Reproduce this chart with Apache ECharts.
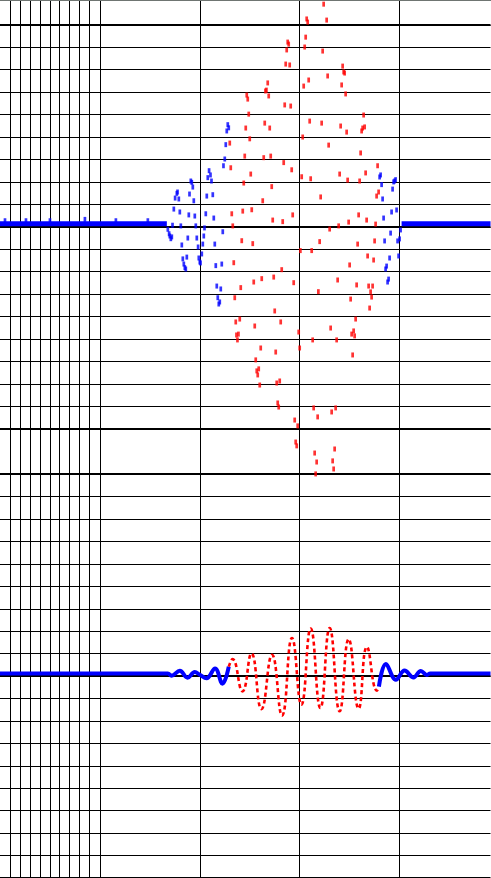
<!DOCTYPE html>
<html>
<head>
<meta charset="utf-8">
<script src="https://cdn.jsdelivr.net/npm/echarts@6/dist/echarts.min.js"></script>
<style>
html, body { margin: 0; padding: 0; background: #fff; }
#chart { width: 491px; height: 878px; }
</style>
</head>
<body>
<div id="chart"></div>
<script>
// upper panel: sampled points (one per column), flat blue baseline on both sides
var topFlatLeft = [[0, 0.14], [167, 0.14]];
var topFlatRight = [[402, 0.14], [491, 0.14]];
var topNoise = [[5, 0.27], [26, 0.27], [50, 0.27], [85, 0.33], [116, 0.27], [148, 0.27]];

var topBlue = [
  [168, -0.11], [169.3, -0.31], [170, -0.41], [171, -0.53], [172, -0.45], [172.7, 0.07],
  [174, 0.79], [175.3, 1.28], [177, 1.49], [177.7, 1.55], [179, 1.24], [180, 0.66],
  [181, 0.04], [182, -0.81], [183, -1.43], [184, -1.66], [185, -1.82], [186, -1.88],
  [187, -1.35], [188, -0.50], [189, 0.53], [189.7, 1.46], [191, 2.04], [192, 1.98],
  [193, 1.77], [194, 1.16], [195, 0.48], [196, 0.04], [197, -0.50], [198.3, -0.90],
  [199, -1.39], [200, -1.57], [200.7, -1.61], [202, -1.21], [203, -0.77], [204, -0.41],
  [204.7, -0.05], [206, 0.58], [207, 1.37], [208, 2.19], [209.3, 2.50], [210.7, 2.31],
  [211.7, 2.04], [213, 1.43], [214, 0.39], [215, -0.77], [216, -1.73], [217, -2.64],
  [218, -3.16], [219, -3.44], [220, -3.35], [221, -2.77], [222, -1.66], [223, -0.22],
  [223.7, 2.72], [225, 3.02], [226, 3.66], [227, 4.27], [228, 4.55], [229, 4.41],
  [380, 2.22], [381, 2.31], [382, 1.88], [383, 1.24], [384, 0.39], [385, -0.63],
  [386, -1.88], [387, -1.75], [388, -2.46], [389, -2.33], [390, -1.39], [391, -0.28],
  [392, 0.66], [393, 1.68], [394, 2.00], [395, 2.04], [396, 2.10], [397, 0.75],
  [398, -0.63], [399, -1.30], [400, -0.54], [401, -0.14]
];

var topRed = [
  [230, 3.73], [231, 2.63], [232, 0.58], [233, 0.04], [234, -1.60], [235, -3.16],
  [236, -4.24], [236.7, -4.82], [237.7, -5.04], [238.7, -4.78], [240, -4.11], [241, -2.71],
  [242, -0.62], [243, 0.70], [244, 1.95], [245, 3.15], [246, 4.40], [247, 5.87],
  [248, 5.69], [249, 5.02], [250, 3.92], [251, 2.35], [252, 0.76], [253, -0.75],
  [254, -2.46], [255, -4.42], [256, -5.93], [257, -6.42], [258, -6.60], [259, -6.33],
  [260, -7.05], [261, -5.40], [262, -2.31], [263, 1.16], [264, 3.08], [265, 4.62],
  [265.7, 6.05], [266.7, 6.09], [268, 6.41], [269, 5.83], [270, 4.40], [271, 3.15],
  [272, 1.79], [273, 0.30], [274, -2.24], [275, -3.75], [276, -5.58], [277, -6.96],
  [278, -7.85], [279, -8.03], [280, -6.87], [281, -4.24], [282, -1.91], [283, 0.23],
  [284, 2.86], [285, 5.43], [286, 7.25], [287, 7.88], [288, 8.23], [289, 8.14],
  [290, 7.21], [291, 5.38], [292, 2.54], [293, 0.53], [294, -2.49], [295, -8.61],
  [296, -9.59], [297, -9.76], [298, -8.87], [299, -4.69], [300, -5.40], [300.7, -1.06],
  [302, 2.23], [303, 4.00], [304, 6.27], [305, 8.01], [306, 8.45], [307, 9.26],
  [308, 9.12], [309, 6.54], [310, 4.71], [311, 2.14], [312, -1.06], [313, -5.04],
  [314, -8.07], [315, -10.08], [316, -11.01], [317, -10.48], [318, -8.47], [318.7, -2.89],
  [320, -0.66], [321, 1.33], [322, 4.62], [323, 7.83], [324, 9.92], [327, 9.21],
  [328, 6.72], [329, 3.64], [330, -0.10], [331, -4.51], [332, -8.25], [333, -10.43],
  [334, -10.79], [335, -9.90], [336, -8.07], [337, -5.04], [338, -2.37], [339, 0.04],
  [340, 2.35], [341, 4.49], [342, 6.32], [343, 7.16], [344, 6.90], [345, 6.85],
  [346, 5.92], [347, 4.22], [348, 2.08], [349, 0.21], [350, -1.70], [351, -3.22],
  [352, -4.78], [353, -5.71], [354, -4.64], [355, -4.86], [356, -4.11], [357, -2.59],
  [358, -0.77], [359, 0.53], [360, 2.04], [361, 3.29], [362, 4.27], [363, 4.40],
  [364, 4.98], [365, 4.45], [366, 2.40], [367, 0.30], [368, -1.30], [369, -2.64],
  [370, -3.62], [371, -2.90], [372, -3.13], [373, -2.64], [374, -1.48], [375, -0.63],
  [376, 0.12], [377, 1.37], [378, 2.72], [379, 1.55]
];

// lower panel: waveform, peaks / troughs
var bottomBlueLeft = [
  [0, 0.12], [168, 0.12], [171.7, 0.02], [180, 0.24], [187.7, -0.07], [195, 0.18],
  [200, 0.06], [206.7, -0.10], [215.3, 0.34], [222.7, -0.34], [229, 0.42]
];
var bottomRed = [
  [229, 0.42], [232.7, 0.76], [242.7, -0.68], [251.7, 1.01], [261.7, -1.47], [272.3, 0.95],
  [282.3, -1.76], [292.3, 1.70], [301.7, -1.27], [311, 2.12], [320.7, -1.42], [330, 2.14],
  [340, -1.57], [349, 1.65], [359, -1.45], [367.3, 1.30], [377.3, -0.65], [379.3, -0.47]
];
var bottomBlueRight = [
  [379.3, -0.47], [386.3, 0.54], [396.3, -0.16], [405, 0.25], [414, -0.06], [421.3, 0.23],
  [427.3, 0.05], [430.7, 0.12], [491, 0.12]
];

var BLUE = '#0000ff';
var RED = '#ff0000';

var chart = echarts.init(document.getElementById('chart'));

function hiddenAxis(gridIndex, min, max) {
  return { gridIndex: gridIndex, type: 'value', min: min, max: max, show: false };
}

function lineAxis(gridIndex, min, max, interval, width, showEnds) {
  return {
    gridIndex: gridIndex, type: 'value', min: min, max: max, interval: interval,
    axisLine: { show: false }, axisTick: { show: false }, axisLabel: { show: false },
    splitLine: {
      show: true,
      showMinLine: showEnds,
      showMaxLine: showEnds,
      lineStyle: { color: '#000', width: width }
    }
  };
}

function dots(data, color) {
  return {
    type: 'scatter', xAxisIndex: 0, yAxisIndex: 0, data: data, clip: false,
    symbol: 'rect', symbolSize: [2.7, 5], itemStyle: { color: color }
  };
}

function wave(data, color, width, dashed, xi, yi) {
  return {
    type: 'line', xAxisIndex: xi, yAxisIndex: yi, data: data, clip: false,
    smooth: dashed ? 0.5 : 0.4, showSymbol: false, symbol: 'none',
    lineStyle: { color: color, width: width, type: dashed ? [4, 3] : 'solid' }
  };
}

var option = {
  animation: false,
  backgroundColor: '#fff',
  grid: [
    { left: -0.5, width: 491, top: 24.8, height: 404 },
    { left: -0.5, width: 491, top: 474.2, height: 404.2 },
    { left: -0.5, width: 100, top: 0, height: 878 },
    { left: -0.5, width: 491, top: 0, height: 878 }
  ],
  xAxis: [
    hiddenAxis(0, 0, 491),
    hiddenAxis(1, 0, 491),
    lineAxis(2, 0, 100, 10, 1, false),
    lineAxis(3, 0, 491, 100, 1, false)
  ],
  yAxis: [
    lineAxis(0, -9, 9, 1, 1, true),
    lineAxis(0, -9, 9, 9, 2, true),
    lineAxis(1, -9, 9, 1, 1, true),
    lineAxis(1, -9, 9, 9, 2, true),
    hiddenAxis(2, 0, 1),
    hiddenAxis(3, 0, 1)
  ],
  graphic: [
    { type: 'rect', left: 0, top: 0, z: 100, shape: { width: 491, height: 1 }, style: { fill: '#6f7572' } }
  ],
  series: [
    wave(topFlatLeft, BLUE, 5, false, 0, 0),
    wave(topFlatRight, BLUE, 5, false, 0, 0),
    dots(topNoise, BLUE),
    dots(topBlue, BLUE),
    dots(topRed, RED),
    wave(bottomBlueLeft, BLUE, 4, false, 1, 2),
    wave(bottomRed, RED, 2.6, true, 1, 2),
    wave(bottomBlueRight, BLUE, 4, false, 1, 2)
  ]
};

chart.setOption(option);
</script>
</body>
</html>
